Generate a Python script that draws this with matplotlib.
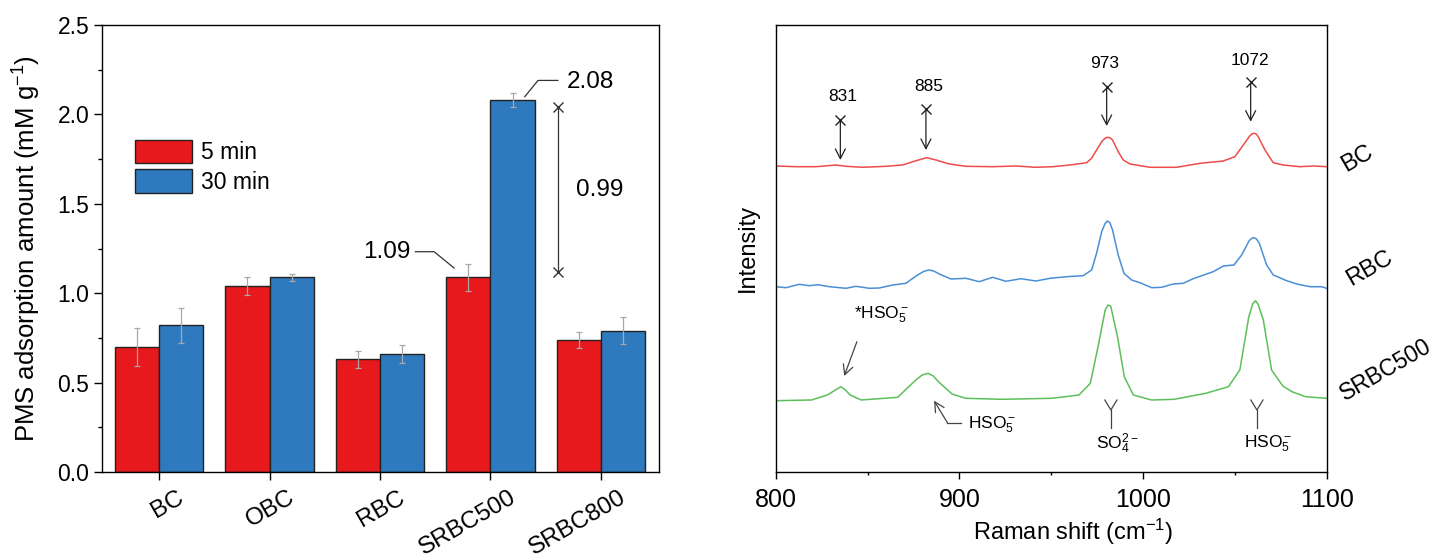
import matplotlib
matplotlib.use('Agg')
import matplotlib.pyplot as plt
from matplotlib.transforms import ScaledTranslation
import numpy as np

plt.rcParams['font.family'] = ['Liberation Sans', 'DejaVu Sans']
plt.rcParams['mathtext.fontset'] = 'custom'
plt.rcParams['mathtext.rm'] = 'Liberation Sans'
plt.rcParams['mathtext.it'] = 'Liberation Sans:italic'
plt.rcParams['mathtext.bf'] = 'Liberation Sans:bold'
plt.rcParams['mathtext.default'] = 'regular'

# ---------------- data: left panel ----------------
categories = ['BC', 'OBC', 'RBC', 'SRBC500', 'SRBC800']
series_labels = ['5 min', '30 min']
pms_5min = [0.70, 1.04, 0.63, 1.09, 0.74]
pms_5min_err = [0.105, 0.05, 0.046, 0.075, 0.044]
pms_30min = [0.82, 1.09, 0.66, 2.08, 0.79]
pms_30min_err = [0.10, 0.02, 0.053, 0.04, 0.075]

# ---------------- data: right panel (Raman, offset traces, a.u.) ----------------
bc_shift = [800.2, 811, 822, 832.8, 838.3, 847.3, 860, 869.1, 876.4, 882.2,
            887.3, 894.5, 903.6, 918.1, 930.8, 941.7, 950.8, 960.2, 969.3, 972,
            974.7, 977.5, 979.2, 980.5, 982.0, 983.4, 986.5, 989.2, 992.9, 1003.8,
            1018.3, 1031, 1043.7, 1050, 1054.6, 1058.2, 1059.4, 1060.4, 1061.6, 1062.7,
            1066.4, 1070.9, 1076.3, 1085.4, 1092.7, 1100]
bc_int = [306, 305.3, 305.3, 307, 305.7, 304.7, 305.7, 307, 311.3, 314.3,
          312, 308, 305.7, 305.3, 306, 304.7, 305.3, 307, 309.3, 313.7,
          322, 330.3, 333.6, 334.7, 334.2, 332, 320.3, 312, 308, 304.7,
          304.7, 308.7, 311, 315.3, 327, 336.3, 338.2, 338.7, 338.0, 335.3,
          322, 309.3, 307, 305.3, 306, 305.3]

rbc_shift = [800.2, 805.6, 812.8, 818.3, 822.9, 829.2, 838.3, 843.7, 851, 856.4,
             863.7, 870.9, 876.4, 880.5, 883.3, 886.0, 889.1, 895.4, 903.6, 910.8,
             918.1, 925.4, 933.5, 941.7, 949.3, 958.4, 967.4, 972, 974.7, 977.5,
             979.2, 980.5, 981.9, 983.4, 986.5, 989.6, 993.8, 998.3, 1004.7, 1010.1,
             1016.4, 1021.9, 1027.3, 1038.2, 1043.7, 1049.5, 1053.7, 1057.8, 1059.3, 1060.4,
             1061.8, 1063.3, 1067.3, 1070.9, 1078.2, 1083.6, 1090.9, 1097.2, 1100]
rbc_int = [185.3, 184.3, 187.7, 186.3, 187.3, 185.3, 183.7, 185.7, 183.7, 184,
           187, 188.7, 196, 200.5, 202, 201, 198, 193, 193.7, 190.3,
           194.7, 190.7, 193.3, 191, 193.7, 195.3, 196.3, 202, 218.7, 240.3,
           248.0, 251, 249.5, 242, 217, 198.7, 192, 189.3, 184.3, 184.7,
           188, 188.7, 193.3, 200.3, 206, 207, 217, 231.3, 233.8, 234.3,
           233.0, 228.7, 207, 197, 191.3, 188, 185.3, 185.3, 183.7]

srbc_shift = [800, 819.5, 828.1, 833.0, 835.5, 838.0, 840.5, 846.6, 866.4, 876.3,
              879.8, 882.9, 885.8, 888.6, 896, 903.4, 923.1, 950.3, 965.1, 971.3,
              975.5, 979.4, 980.9, 982.4, 986.1, 989.8, 994.7, 1004.6, 1016.9, 1034.2,
              1046.5, 1052.7, 1057.6, 1059.8, 1061.2, 1062.6, 1065.5, 1070, 1076.1, 1081.1,
              1088.5, 1100]
srbc_int = [71.3, 72, 77, 82.5, 85.3, 82.0, 77, 72, 74.7, 92,
            97.0, 98.7, 96.0, 90.3, 78, 73.7, 72.7, 73.7, 77, 88.7,
            125.3, 162, 167.0, 166, 135.3, 95.3, 77, 72, 72.7, 78.7,
            85.3, 102, 155.3, 168.5, 171.3, 168.0, 152, 102, 86, 80.3,
            75.3, 73.7]

trace_names = ['BC', 'RBC', 'SRBC500']
peak_labels = ['831', '885', '973', '1072']
peak_marks = [835.2, 881.8, 980.2, 1058.6]

# ---------------- figure ----------------
W, H = 1437, 560
fig = plt.figure(figsize=(W / 100, H / 100), dpi=100)


def fx(px):
    return px / W


def fy(py):
    return 1 - py / H


# ---------------- left panel ----------------
ax1 = fig.add_axes([fx(102), fy(472), fx(659) - fx(102), fy(25) - fy(472)])
xpos = np.arange(len(categories))
bw = 0.4
ekw = dict(ecolor='#A8A8A8', elinewidth=0.9, capsize=2.5, capthick=0.9, zorder=3)
b1 = ax1.bar(xpos - bw / 2, pms_5min, bw, yerr=pms_5min_err, color='#E8191C',
             edgecolor='#222222', linewidth=1.0, error_kw=ekw, label=series_labels[0], zorder=2)
b2 = ax1.bar(xpos + bw / 2, pms_30min, bw, yerr=pms_30min_err, color='#2F7ABF',
             edgecolor='#222222', linewidth=1.0, error_kw=ekw, label=series_labels[1], zorder=2)
ax1.set_xlim(-0.516, 4.525)
ax1.set_ylim(0, 2.5)
ax1.set_yticks(np.arange(0, 2.51, 0.5))
ax1.set_yticks(np.arange(0.25, 2.5, 0.5), minor=True)
ax1.yaxis.set_major_formatter('{x:.1f}')
ax1.set_xticks(xpos)
ax1.set_xticklabels(categories, rotation=30, ha='right')
ax1.tick_params(axis='both', which='major', direction='out', length=5.5, width=1.0,
                top=False, right=False)
ax1.tick_params(axis='y', labelsize=16.5)
ax1.tick_params(axis='x', labelsize=17.5, pad=5)
ax1.tick_params(axis='y', which='minor', direction='out', length=2.8, width=1.0)
for lab in ax1.get_xticklabels():
    lab.set_transform(lab.get_transform() + ScaledTranslation(0.29, 0, fig.dpi_scale_trans))
for s in ax1.spines.values():
    s.set_linewidth(1.0)

ax1.legend(loc='upper left', bbox_to_anchor=(fx(135), fy(140)), bbox_transform=fig.transFigure,
           frameon=False, fontsize=16.5, handlelength=2.5, handleheight=1.2,
           handletextpad=0.36, labelspacing=0.2, borderpad=0, borderaxespad=0)

lc = '#333333'
# 2.08 callout
ax1.plot([3.31, 3.43, 3.61], [2.099, 2.19, 2.19], color=lc, lw=0.9)
ax1.text(3.9, 2.18, '2.08', fontsize=17.5, ha='center', va='center')
# 1.09 callout
ax1.plot([2.32, 2.49, 2.67], [1.232, 1.232, 1.141], color=lc, lw=0.9)
ax1.text(2.06, 1.232, '1.09', fontsize=17.5, ha='center', va='center')
# 0.99 difference bar
ax1.plot([3.61, 3.61], [1.12, 2.043], color=lc, lw=0.9)
ax1.plot([3.61, 3.61], [1.12, 2.043], ls='none', marker='x', ms=7, mew=1.0, color=lc)
ax1.text(3.99, 1.577, '0.99', fontsize=17.5, ha='center', va='center')

fig.text(fx(27), fy(248.5), 'PMS adsorption amount (mM g$^{-1}$)', rotation=90,
         ha='center', va='center', fontsize=18.5)

# ---------------- right panel ----------------
ax2 = fig.add_axes([fx(775.7), fy(472), fx(1326.7) - fx(775.7), fy(25) - fy(472)])
ax2.plot(bc_shift, bc_int, color='#EE4B4B', lw=1.1, solid_joinstyle='round')
ax2.plot(rbc_shift, rbc_int, color='#4A8FD6', lw=1.1, solid_joinstyle='round')
ax2.plot(srbc_shift, srbc_int, color='#5CBF5C', lw=1.1, solid_joinstyle='round')
ax2.set_xlim(800, 1100)
ax2.set_ylim(0, 447)
ax2.set_yticks([])
ax2.set_xticks([800, 900, 1000, 1100])
ax2.set_xticks([850, 950, 1050], minor=True)
ax2.tick_params(axis='x', which='major', direction='out', length=5, width=1.0,
                labelsize=18, pad=6.5)
ax2.tick_params(axis='x', which='minor', direction='out', length=2.5, width=1.0)
for s in ax2.spines.values():
    s.set_linewidth(1.0)

ac = '#222222'
head = '->,head_length=0.35,head_width=0.18'
tails = [352, 362.7, 385.3, 390.3]
tips = [312, 322, 346, 350.3]
lab_x = [836.5, 883.6, 979.3, 1058.2]
lab_y = [375.3, 385.3, 408, 411.3]
for xp, t0, t1, lx, ly, lab in zip(peak_marks, tails, tips, lab_x, lab_y, peak_labels):
    ax2.annotate('', xy=(xp, t1), xytext=(xp, t0),
                 arrowprops=dict(arrowstyle=head, lw=0.9, color=ac, shrinkA=0, shrinkB=0,
                                 mutation_scale=20))
    ax2.plot([xp], [t0], marker='x', ms=7, mew=1.0, color=ac)
    ax2.text(lx, ly, lab, fontsize=12.5, ha='center', va='center')

# lower annotations
gc = '#444444'
ax2.annotate('', xy=(837.3, 96), xytext=(844.2, 130.3),
             arrowprops=dict(arrowstyle=head, lw=0.9, color=gc, shrinkA=0, shrinkB=0,
                             mutation_scale=20))
ax2.text(857.6, 157, '*HSO$_5^-$', fontsize=12.5, ha='center', va='center')
ax2.plot([900.9, 893.5], [49.3, 49.3], color=gc, lw=0.9)
ax2.annotate('', xy=(886.2, 71.3), xytext=(893.5, 49.3),
             arrowprops=dict(arrowstyle=head, lw=0.9, color=gc, shrinkA=0, shrinkB=0,
                             mutation_scale=20))
ax2.text(904.5, 47, 'HSO$_5^-$', fontsize=12.5, ha='left', va='center')
for xc in [982.5, 1062]:
    ax2.plot([xc, xc], [43.7, 62], color=gc, lw=0.9)
    ax2.plot([xc - 3.3, xc, xc + 3.3], [72, 62, 72], color=gc, lw=0.9)
ax2.text(986, 28, 'SO$_4^{2-}$', fontsize=12.5, ha='center', va='center')
ax2.text(1068, 28, 'HSO$_5^-$', fontsize=12.5, ha='center', va='center')

fig.text(fx(748), fy(248), 'Intensity', rotation=90, ha='center', va='center', fontsize=17)
fig.text(fx(1073), fy(531.7), 'Raman shift (cm$^{-1}$)', ha='center', va='center', fontsize=17)
fig.text(fx(1357.7), fy(159), trace_names[0], rotation=30, ha='center', va='center', fontsize=17)
fig.text(fx(1370), fy(268), trace_names[1], rotation=30, ha='center', va='center', fontsize=17)
fig.text(fx(1386), fy(370), trace_names[2], rotation=30, ha='center', va='center', fontsize=16.5)

fig.savefig('out.png', dpi=100)
